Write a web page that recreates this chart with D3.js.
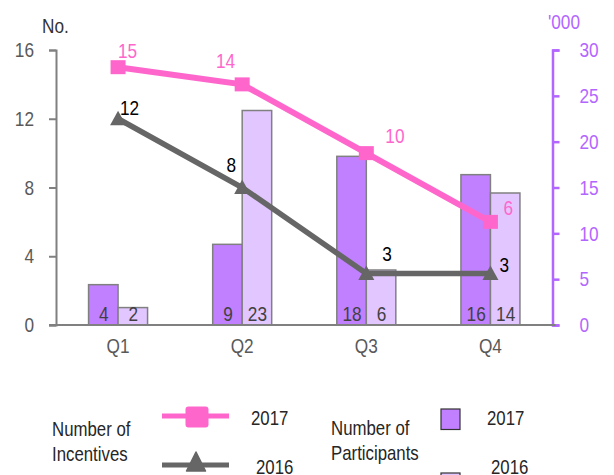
<!DOCTYPE html>
<html>
<head>
<meta charset="utf-8">
<script src="https://cdn.jsdelivr.net/npm/d3@7"></script>
<style>
  html, body { margin: 0; padding: 0; background: #fff; }
  svg { display: block; }
  text { font-family: "Liberation Sans", Arial, sans-serif; }
</style>
</head>
<body>
<svg id="chart" width="614" height="475"></svg>
<script>
// ---- data ----
const quarters = ["Q1", "Q2", "Q3", "Q4"];
const incentives2017 = [15, 14, 10, 6];
const incentives2016 = [12, 8, 3, 3];
const participants2017 = [4.4, 8.8, 18.4, 16.4];   // '000
const participants2016 = [1.9, 23.4, 6.0, 14.4];   // '000
const leftTicks = [0, 4, 8, 12, 16];
const rightTicks = [0, 5, 10, 15, 20, 25, 30];

// ---- style / layout ----
const C = {
  pink: "#FF66CC", gray: "#666666", bar17: "#C080FF", bar16: "#E1C6FF",
  barStroke: "#808080", axis: "#808080", axisText: "#595959",
  right: "#B366FF", legendText: "#262626"
};
const NARROW = 0.82; // horizontal compression to mimic a narrow typeface
const svg = d3.select("#chart");
const plot = { left: 56, right: 552.5, top: 50, bottom: 325 };

const x = d3.scaleBand().domain(quarters).range([plot.left, plot.right]);
const yL = d3.scaleLinear().domain([0, 16]).range([plot.bottom, plot.top]);
const yR = d3.scaleLinear().domain([0, 30]).range([plot.bottom, plot.top]);
const cx = q => x(q) + x.bandwidth() / 2;
const barW = 29.5;

// ---- bars ----
const barData = [];
quarters.forEach((q, i) => {
  barData.push({ q, v: participants2017[i], off: -barW, fill: C.bar17 });
  barData.push({ q, v: participants2016[i], off: 0, fill: C.bar16 });
});
svg.append("g").selectAll("rect").data(barData).join("rect")
  .attr("x", d => cx(d.q) + d.off)
  .attr("y", d => yR(d.v))
  .attr("width", barW)
  .attr("height", d => yR(0) - yR(d.v))
  .attr("fill", d => d.fill)
  .attr("stroke", C.barStroke)
  .attr("stroke-width", 1.5);

svg.append("g").selectAll("text").data(barData).join("text")
  .attr("x", d => cx(d.q) + d.off + barW / 2 + 0.5)
  .attr("y", plot.bottom - 4)
  .attr("text-anchor", "middle")
  .attr("font-size", 21)
  .attr("fill", "#404040")
  .text(d => d3.format(".0f")(d.v));

// ---- axes ----
const gL = svg.append("g").attr("transform", `translate(${plot.left},0)`)
  .call(d3.axisLeft(yL).tickValues(leftTicks).tickSize(7).tickPadding(15).tickFormat(d3.format("d")));
gL.selectAll("path, line").attr("stroke", C.axis).attr("stroke-width", 2);
gL.selectAll("text").attr("font-size", 21).attr("fill", C.axisText)
  .attr("font-family", null);

const gR = svg.append("g").attr("transform", `translate(${plot.right},0)`)
  .call(d3.axisRight(yR).tickValues(rightTicks).tickSize(7).tickPadding(20).tickFormat(d3.format("d")));
gR.selectAll("path, line").attr("stroke", C.right).attr("stroke-width", 2.5);
gR.selectAll("text").attr("font-size", 21).attr("fill", C.right)
  .attr("font-family", null);

// baseline
svg.append("line")
  .attr("x1", plot.left - 7).attr("x2", plot.right + 3)
  .attr("y1", yL(0)).attr("y2", yL(0))
  .attr("stroke", C.axis).attr("stroke-width", 2);

// category axis labels
const gX = svg.append("g").attr("transform", `translate(0,${plot.bottom})`)
  .call(d3.axisBottom(x).tickSize(0).tickPadding(28));
gX.select(".domain").remove();
gX.selectAll("text").attr("font-size", 21).attr("fill", C.axisText).attr("font-family", null)
  .attr("dy", "0");

// axis titles
svg.append("text").attr("x", 42).attr("y", 33).attr("font-size", 21).attr("fill", "#333").text("No.");
svg.append("text").attr("x", 548).attr("y", 29).attr("font-size", 21).attr("fill", C.right).text("'000");

// ---- lines ----
const line = d3.line().x(d => cx(d.q)).y(d => yL(d.v));
const s17 = quarters.map((q, i) => ({ q, v: incentives2017[i] }));
const s16 = quarters.map((q, i) => ({ q, v: incentives2016[i] }));
const triPath = "M0,-8 L8,6.5 L-8,6.5 Z";

svg.append("path").datum(s16).attr("d", line)
  .attr("fill", "none").attr("stroke", C.gray).attr("stroke-width", 5.5);
svg.append("g").selectAll("path").data(s16).join("path")
  .attr("transform", d => `translate(${cx(d.q)},${yL(d.v)})`)
  .attr("d", triPath).attr("fill", C.gray);

svg.append("path").datum(s17).attr("d", line)
  .attr("fill", "none").attr("stroke", C.pink).attr("stroke-width", 6);
svg.append("g").selectAll("rect").data(s17).join("rect")
  .attr("x", d => cx(d.q) - 7.5).attr("y", d => yL(d.v) - 7)
  .attr("width", 15).attr("height", 14).attr("fill", C.pink);

// line value labels (offsets relative to each marker)
const off17 = [[0, -9, "start"], [-7, -16, "end"], [19, -10, "start"], [13, -7, "start"]];
const off16 = [[2, -4, "start"], [-6, -15.5, "end"], [16, -12.5, "start"], [9, -1, "start"]];
svg.append("g").selectAll("text").data(s17).join("text")
  .attr("x", (d, i) => cx(d.q) + off17[i][0])
  .attr("y", (d, i) => yL(d.v) + off17[i][1])
  .attr("text-anchor", (d, i) => off17[i][2])
  .attr("font-size", 21).attr("fill", C.pink).text(d => d.v);
svg.append("g").selectAll("text").data(s16).join("text")
  .attr("x", (d, i) => cx(d.q) + off16[i][0])
  .attr("y", (d, i) => yL(d.v) + off16[i][1])
  .attr("text-anchor", (d, i) => off16[i][2])
  .attr("font-size", 21).attr("fill", "#000").text(d => d.v);

// ---- legend ----
const lg = svg.append("g").attr("font-size", 20.5).attr("fill", C.legendText);
lg.append("text").attr("x", 52).attr("y", 436).text("Number of");
lg.append("text").attr("x", 52).attr("y", 461.5).text("Incentives");
lg.append("line").attr("x1", 162).attr("x2", 229).attr("y1", 416).attr("y2", 416)
  .attr("stroke", C.pink).attr("stroke-width", 5);
lg.append("rect").attr("x", 185.5).attr("y", 406.5).attr("width", 23).attr("height", 21)
  .attr("rx", 3).attr("fill", C.pink);
lg.append("text").attr("x", 251).attr("y", 425.5).text("2017");
lg.append("line").attr("x1", 162).attr("x2", 229).attr("y1", 465).attr("y2", 465)
  .attr("stroke", C.gray).attr("stroke-width", 5);
lg.append("path").attr("transform", "translate(196,462)")
  .attr("d", "M0,-10 L9.5,9 L-9.5,9 Z").attr("fill", C.gray)
  .attr("stroke", C.gray).attr("stroke-width", 1.5).attr("stroke-linejoin", "round");
lg.append("text").attr("x", 256).attr("y", 474.5).text("2016");

lg.append("text").attr("x", 331).attr("y", 435.5).text("Number of");
lg.append("text").attr("x", 331).attr("y", 460.5).text("Participants");
lg.append("rect").attr("x", 441).attr("y", 409).attr("width", 19).attr("height", 20.5)
  .attr("fill", C.bar17).attr("stroke", "#333").attr("stroke-width", 1.2);
lg.append("text").attr("x", 487).attr("y", 425.5).text("2017");
lg.append("rect").attr("x", 441).attr("y", 473).attr("width", 19).attr("height", 20.5)
  .attr("fill", C.bar16).attr("stroke", "#333").attr("stroke-width", 1.2);
lg.append("text").attr("x", 491).attr("y", 474.5).text("2016");

// ---- compress all text horizontally around its anchor x ----
svg.selectAll("text").each(function () {
  const t = d3.select(this);
  const ax = +(t.attr("x") || 0);
  t.attr("transform", `translate(${ax},0) scale(${NARROW},1) translate(${-ax},0)`);
});
</script>
</body>
</html>
